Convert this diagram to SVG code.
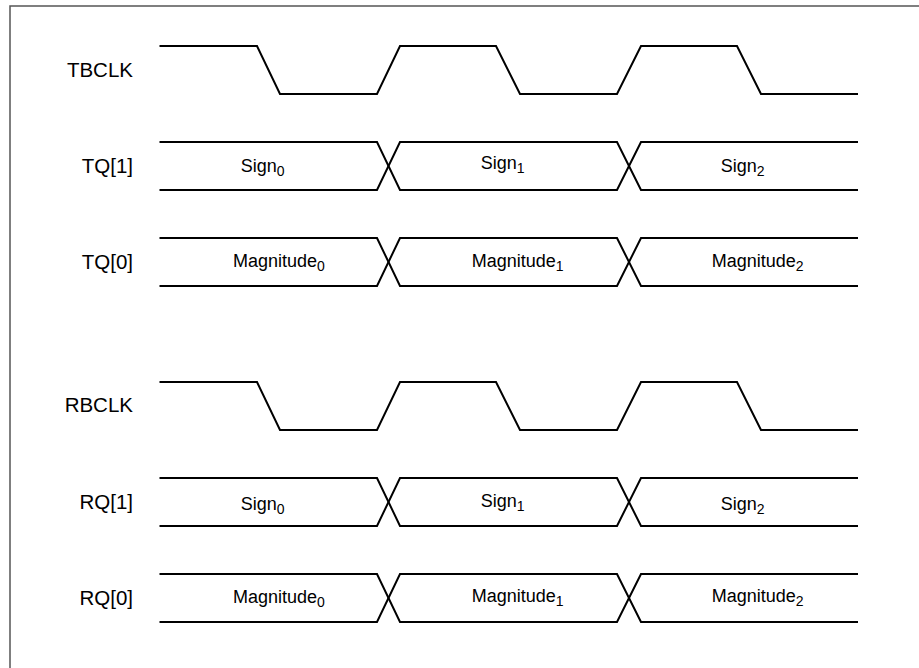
<svg xmlns="http://www.w3.org/2000/svg" width="919" height="668" viewBox="0 0 919 668">
<style>
.w{fill:none;stroke:#000;stroke-width:2;stroke-linejoin:miter}
.lbl{font-family:"Liberation Sans",Arial,sans-serif;font-size:20.5px;fill:#000;text-anchor:end}
.dl{font-family:"Liberation Sans",Arial,sans-serif;font-size:18px;fill:#000}
.sub{font-size:14px}
</style>
<rect width="919" height="668" fill="#fff"/>
<path d="M10,668 V6 H919" fill="none" stroke="#555" stroke-width="1.5"/>
<g id="labels">
<text class="lbl" x="133" y="77">TBCLK</text>
<text class="lbl" x="133" y="173">TQ[1]</text>
<text class="lbl" x="133" y="269">TQ[0]</text>
<text class="lbl" x="133" y="412">RBCLK</text>
<text class="lbl" x="133" y="509">RQ[1]</text>
<text class="lbl" x="133" y="605">RQ[0]</text>
</g>
<g id="connectors">
<g id="TBCLK"><path class="w" d="M159.5,46 H257 L280,94 H377 L400,46 H496 L520,94 H617 L641,46 H737 L761,94 H858"/></g>
<g id="TQ1">
<path class="w" d="M159.5,142 H377 L400,190 H617 L641,142 H858"/>
<path class="w" d="M159.5,190 H377 L400,142 H617 L641,190 H858"/>
<text class="dl" x="240.7" y="171.5">Sign<tspan class="sub" dy="4">0</tspan></text>
<text class="dl" x="480.7" y="168.5">Sign<tspan class="sub" dy="4">1</tspan></text>
<text class="dl" x="720.7" y="171.5">Sign<tspan class="sub" dy="4">2</tspan></text>
</g>
<g id="TQ0">
<path class="w" d="M159.5,238 H377 L400,286 H617 L641,238 H858"/>
<path class="w" d="M159.5,286 H377 L400,238 H617 L641,286 H858"/>
<text class="dl" x="233" y="266.7">Magnitude<tspan class="sub" dy="4">0</tspan></text>
<text class="dl" x="471.7" y="266.7">Magnitude<tspan class="sub" dy="4">1</tspan></text>
<text class="dl" x="711.7" y="266.7">Magnitude<tspan class="sub" dy="4">2</tspan></text>
</g>
<g id="RBCLK"><path class="w" d="M159.5,382 H257 L280,430 H377 L400,382 H496 L520,430 H617 L641,382 H737 L761,430 H858"/></g>
<g id="RQ1">
<path class="w" d="M159.5,478 H377 L400,526 H617 L641,478 H858"/>
<path class="w" d="M159.5,526 H377 L400,478 H617 L641,526 H858"/>
<text class="dl" x="240.7" y="510">Sign<tspan class="sub" dy="4">0</tspan></text>
<text class="dl" x="480.7" y="507.3">Sign<tspan class="sub" dy="4">1</tspan></text>
<text class="dl" x="720.7" y="510">Sign<tspan class="sub" dy="4">2</tspan></text>
</g>
<g id="RQ0">
<path class="w" d="M159.5,574 H377 L400,622 H617 L641,574 H858"/>
<path class="w" d="M159.5,622 H377 L400,574 H617 L641,622 H858"/>
<text class="dl" x="233" y="602.7">Magnitude<tspan class="sub" dy="4">0</tspan></text>
<text class="dl" x="471.7" y="602.3">Magnitude<tspan class="sub" dy="4">1</tspan></text>
<text class="dl" x="711.7" y="602.3">Magnitude<tspan class="sub" dy="4">2</tspan></text>
</g>
</g>
</svg>
